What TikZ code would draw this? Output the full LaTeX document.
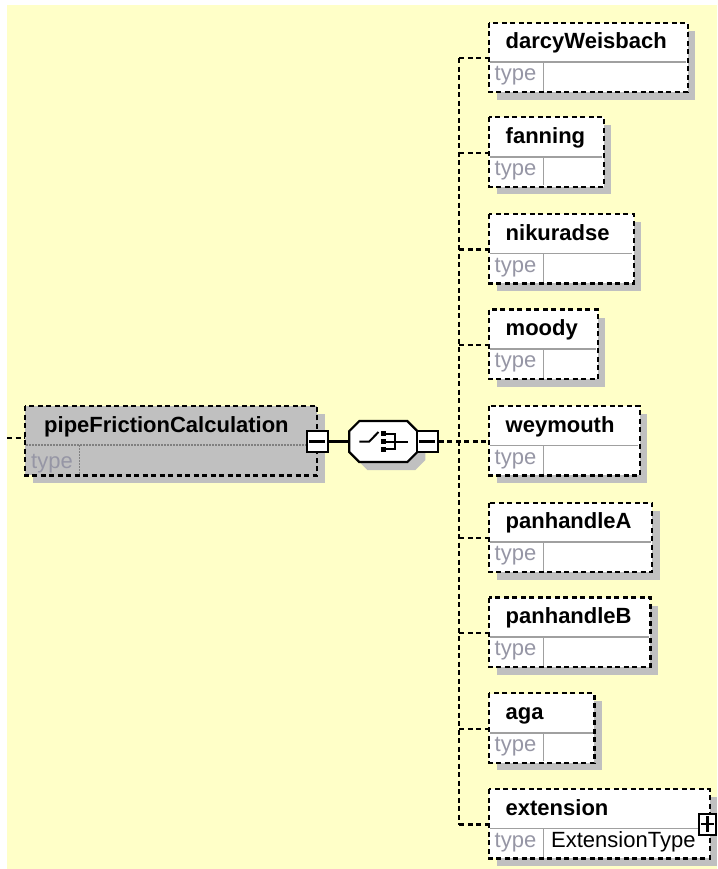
\documentclass[tikz,border=0pt]{standalone}
\usepackage{fontspec}
\setmainfont{Liberation Sans}
\definecolor{bgyellow}{RGB}{255,255,200}
\definecolor{shadowgray}{RGB}{192,192,192}
\definecolor{maingray}{RGB}{192,192,192}
\definecolor{divgray}{RGB}{160,160,160}
\definecolor{typegray}{RGB}{150,150,165}
\pgfdeclarelayer{bg}
\pgfdeclarelayer{connlayer}
\pgfsetlayers{bg,connlayer,main}
\tikzset{
  conn/.style={draw=black, line width=2.2pt, dash pattern=on 5pt off 3.5pt},
  solidconn/.style={draw=black, line width=2.2pt},
  elembox/.style={fill=white, minimum height=69pt, inner sep=0pt, anchor=north west},
  mainbox/.style={fill=maingray, minimum height=69pt, inner sep=0pt, anchor=north west},
  elemborder/.style={draw=black, line width=2.2pt, dash pattern=on 5pt off 3.5pt},
  divline/.style={draw=divgray, line width=1.5pt},
  maindiv/.style={draw=gray, line width=1.5pt, dash pattern=on 1.5pt off 1.5pt},
  nametext/.style={font=\fontsize{22}{26}\selectfont\bfseries, inner sep=0pt, anchor=base west},
  typetext/.style={font=\fontsize{22}{26}\selectfont, text=typegray, inner sep=0pt, anchor=base west},
  typevalue/.style={font=\fontsize{22}{26}\selectfont, text=black, inner sep=0pt, anchor=base west},
  expbox/.style={draw=black, fill=white, line width=2.2pt, minimum width=21pt, minimum height=21pt, inner sep=0pt},
  signline/.style={draw=black, line width=2.2pt},
  shadowfill/.style={fill=shadowgray},
  octoline/.style={draw=black, line width=2.2pt, fill=white},
  symline/.style={draw=black, line width=2pt},
}
\newcommand\childel[5]{%
  \fill[shadowfill] (497,#3+8) rectangle (#4+8,#3+77);
  \node[elembox, minimum width={#4-489}] (#1) at (489,#3) {};
  \draw[divline] (490,#3+39.5) -- (#4-1,#3+39.5);
  \draw[divline] (543.3,#3+39.5) -- (543.3,#3+68);
  \draw[elemborder] (#1.north west) rectangle (#1.south east);
  \node[nametext] (#1-name) at (505.5,#3+26) {#2};
  \node[typetext] (#1-type) at (494.5,#3+58) {type};
  \node[typevalue] (#1-tv) at (551,#3+58) {#5};
  \coordinate (#1-in) at (489,#3+35.5);
}
\begin{document}
\begin{tikzpicture}[x=1pt,y=-1pt]
\useasboundingbox (0,0) rectangle (717,869);
\begin{pgfonlayer}{bg}
\fill[white] (0,0) rectangle (717,869);
\fill[bgyellow] (7,5) rectangle (717,869);
\end{pgfonlayer}

% main element
\fill[shadowfill] (33,414) rectangle (324.7,483);
\node[mainbox, minimum width=291.7] (main) at (25,406) {};
\draw[maindiv] (26,445) -- (315.7,445);
\draw[maindiv] (79.3,445) -- (79.3,474);
\draw[elemborder] (main.north west) rectangle (main.south east);
\node[nametext] (main-name) at (44,432) {pipeFrictionCalculation};
\node[typetext] (main-type) at (31,468) {type};
\node[expbox] (mainminus) at (317.2,441.5) {};
\draw[signline] ([xshift=3.5]mainminus.west) -- ([xshift=-3.5]mainminus.east);
\coordinate (mainleft) at (7,438.3);

% choice compositor
\fill[shadowfill] (359.3+8,421+8) -- (407.3+8,421+8) -- (417.3+8,431+8) -- (417.3+8,452+8) -- (407.3+8,462+8) -- (359.3+8,462+8) -- (349.3+8,452+8) -- (349.3+8,431+8) -- cycle;
\node[minimum width=68pt, minimum height=41pt, inner sep=0pt] (choice) at (383.3,441.5) {};
\path[octoline] (359.3,421) -- (407.3,421) -- (417.3,431) -- (417.3,452) -- (407.3,462) -- (359.3,462) -- (349.3,452) -- (349.3,431) -- cycle;
\draw[symline] (359.3,441.5) -- (369.3,441.5) -- (378.5,432);
\fill[black] (380.7,431) rectangle (385.7,436);
\fill[black] (380.7,439) rectangle (385.7,444);
\fill[black] (380.7,446.7) rectangle (385.7,451.7);
\draw[symline] (385.7,433.5) -- (395,433.5) -- (395,449.2) -- (385.7,449.2);
\draw[symline] (385.7,441.5) -- (407.5,441.5);
\node[expbox] (choiceminus) at (427.2,441.5) {};
\draw[signline] ([xshift=3.5]choiceminus.west) -- ([xshift=-3.5]choiceminus.east);

% children
\childel{darcy}{darcyWeisbach}{22.7}{687.3}{}
\childel{fanning}{fanning}{117.3}{603.3}{}
\childel{nikuradse}{nikuradse}{214}{633.3}{}
\childel{moody}{moody}{309.5}{597.3}{}
\childel{weymouth}{weymouth}{406}{639.3}{}
\childel{panA}{panhandleA}{502.7}{651.7}{}
\childel{panB}{panhandleB}{597.5}{650}{}
\childel{aga}{aga}{693.3}{594}{}
\childel{extension}{extension}{789}{709.3}{ExtensionType}
\node[expbox, minimum width=17pt] (extplus) at (707.5,824.2) {};
\draw[signline] ([xshift=3]extplus.west) -- ([xshift=-3]extplus.east);
\draw[signline] ([yshift=-3.5]extplus.north) -- ([yshift=3.5]extplus.south);

% connectors
\begin{pgfonlayer}{connlayer}
\coordinate (bus) at (459.3,441.5);
\draw[conn] (mainleft) -- (mainleft -| main.west);
\draw[solidconn] (mainminus.east) -- (choice.west);
\draw[conn] (choiceminus.east) -- (choiceminus.east -| weymouth.west);
\draw[conn] (bus |- darcy-in) -- (bus |- extension-in);
\foreach \n in {darcy,fanning,nikuradse,moody,panA,panB,aga,extension}
  \draw[conn] (bus |- \n-in) -- (\n-in);
\end{pgfonlayer}
\end{tikzpicture}
\end{document}
